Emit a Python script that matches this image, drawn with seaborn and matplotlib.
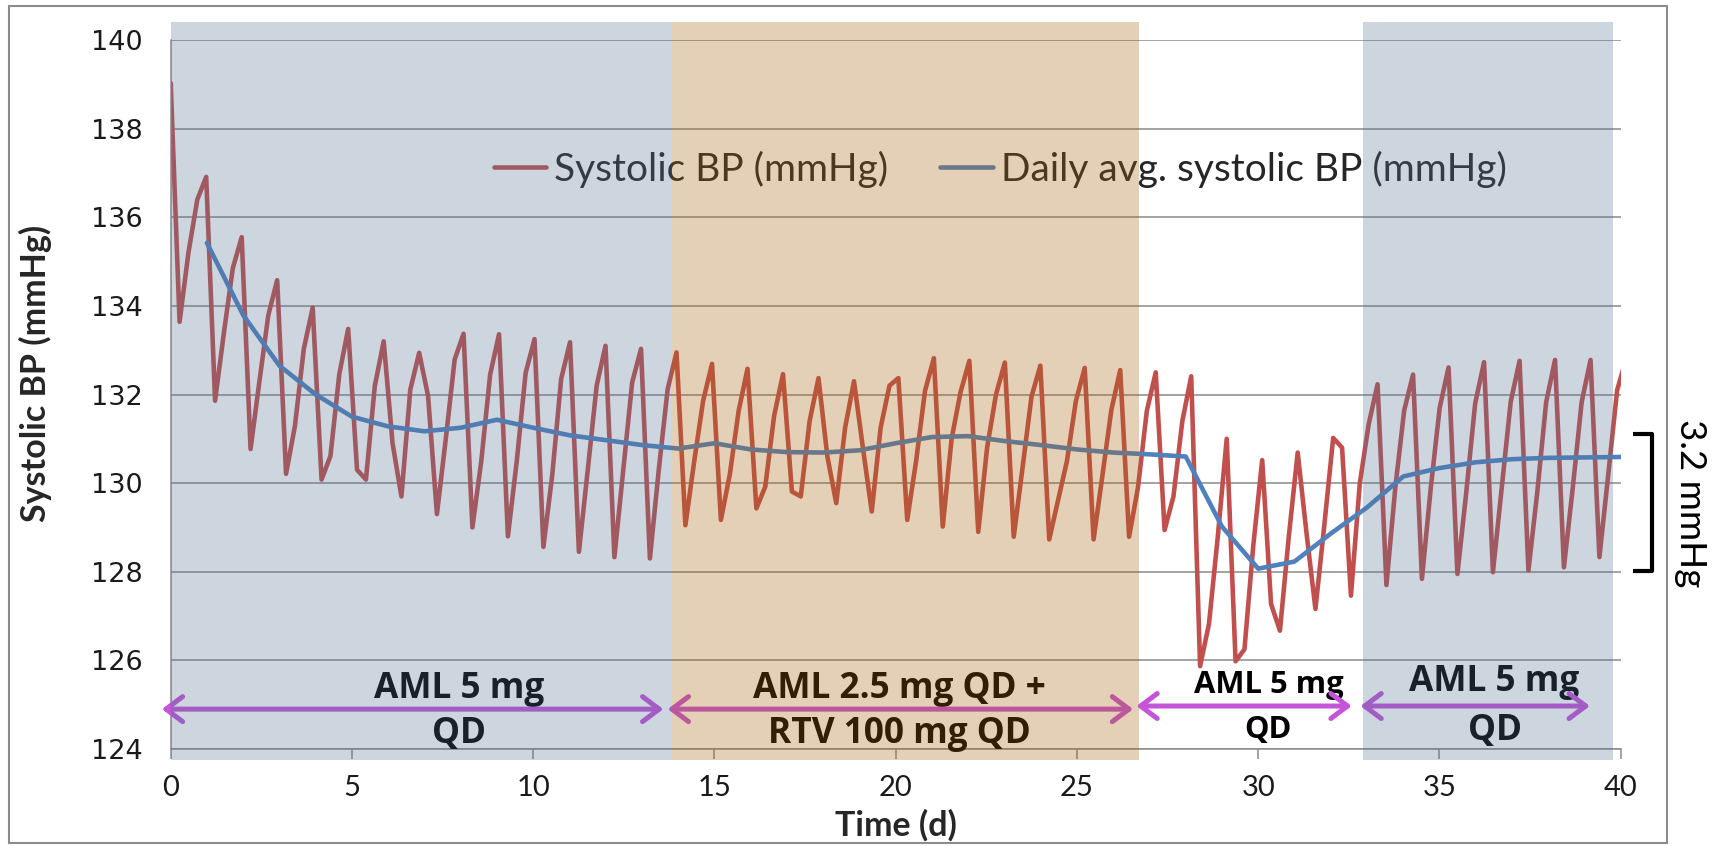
import numpy as np
import pandas as pd
import matplotlib
matplotlib.use("Agg")
import matplotlib.pyplot as plt
import seaborn as sns
from matplotlib.patches import FancyArrowPatch, Rectangle
from matplotlib.lines import Line2D

# ---------------- data ----------------
sample_interval_d = 0.2448          # spacing of the simulated systolic BP samples (days)
systolic_bp = [
    139.03, 133.64, 135.2, 136.4, 136.91, 131.86, 133.4, 134.85, 135.55, 130.77, 132.3,
    133.79, 134.58, 130.21, 131.29, 133.03, 133.96, 130.08, 130.61, 132.46, 133.48,
    130.3, 130.08, 132.19, 133.2, 130.9, 129.7, 132.11, 132.94,
    131.97, 129.3, 131.0, 132.79, 133.37,
    129.0, 130.5, 132.45, 133.36,
    128.8, 130.5, 132.49, 133.25,
    128.56, 130.19, 132.35, 133.18,
    128.45, 130.3, 132.2, 133.1,
    128.33, 130.3, 132.27, 133.03,
    128.3, 130.3, 132.12, 132.95,
    129.05, 130.5, 131.86, 132.69,
    129.17, 130.19, 131.63, 132.58,
    129.43, 129.92, 131.52, 132.46,
    129.81, 129.7, 131.4, 132.37,
    130.6, 129.55, 131.25, 132.3,
    130.8, 129.36, 131.25, 132.2, 132.37,
    129.17, 130.5, 132.08, 132.82,
    129.02, 131.0, 132.05, 132.76,
    128.9, 130.8, 132.0, 132.72,
    128.79, 130.36, 131.95, 132.65,
    128.73, 129.61, 130.5, 131.85, 132.6,
    128.73, 130.18, 131.65, 132.55,
    128.79, 129.9, 131.63, 132.5,
    128.94, 129.7, 131.4, 132.41,
    125.87, 126.82, 128.8, 131.0,
    125.98, 126.25, 128.6, 130.52,
    127.27, 126.67, 128.8, 130.69,
    128.86, 127.16, 129.05, 131.02,
    130.8, 127.46, 130.0, 131.33, 132.23,
    127.7, 129.9, 131.64, 132.45,
    127.84, 129.9, 131.7, 132.61,
    127.95, 129.8, 131.8, 132.73,
    127.99, 129.9, 131.83, 132.76,
    128.03, 129.8, 131.83, 132.78,
    128.1, 129.9, 131.83, 132.78,
    128.33, 130.2, 132.1, 132.8,
]
sample_time = np.arange(len(systolic_bp)) * sample_interval_d

avg_day = list(range(1, 41))
daily_avg_bp = [
    135.42, 133.79, 132.65, 132.0, 131.5, 131.28, 131.17, 131.25, 131.43, 131.25,
    131.08, 130.97, 130.86, 130.78, 130.9, 130.76, 130.7, 130.69, 130.74, 130.9,
    131.04, 131.06, 130.95, 130.86, 130.76, 130.69, 130.65, 130.6, 129.02, 128.07,
    128.23, 128.86, 129.45, 130.15, 130.34, 130.47, 130.54, 130.57, 130.58, 130.59,
]

series_names = ["Systolic BP (mmHg)", "Daily avg. systolic BP (mmHg)"]
x_ticks = [0, 5, 10, 15, 20, 25, 30, 35, 40]
y_ticks = [124, 126, 128, 130, 132, 134, 136, 138, 140]

# treatment periods (start, end, shade)
period_start = [0.0, 13.83, 32.9]
period_end = [13.83, 26.70, 39.79]
period_shade = ["blue", "orange", "blue"]
# treatment labels
label_line1 = ["AML 5 mg", "AML 2.5 mg QD +", "AML 5 mg", "AML 5 mg"]
label_line2 = ["QD", "RTV 100 mg QD", "QD", "QD"]
arrow_start = [-0.245, 13.71, 26.64, 32.82]
arrow_end = [13.59, 26.55, 32.58, 39.15]
bracket_text = "3.2 mmHg"

# ---------------- style ----------------
RED = "#C0504D"
BLUE = "#4F81BD"
PURPLE = "#C454D8"
GRID = "#8A8A8A"
SHADE = {"blue": ("#537294", 0.29), "orange": ("#A86212", 0.30)}

sns.set_style("white")
plt.rcParams["font.family"] = ["DejaVu Sans"]

W, H = 1714, 846
fig = plt.figure(figsize=(W / 100, H / 100), dpi=100)
ax = fig.add_axes([170.7 / W, 1 - 749 / H, 1450 / W, 709 / H])

df_bp = pd.DataFrame({"t": sample_time, "bp": systolic_bp})
df_avg = pd.DataFrame({"t": avg_day, "bp": daily_avg_bp})
sns.lineplot(data=df_bp, x="t", y="bp", ax=ax, color=RED, lw=3.3,
             label=series_names[0], zorder=2, sort=False)
sns.lineplot(data=df_avg, x="t", y="bp", ax=ax, color=BLUE, lw=3.3,
             label=series_names[1], zorder=2.1, sort=False)

ax.set_xlim(0, 40)
ax.set_ylim(124, 140)
ax.set_xticks(x_ticks)
ax.set_yticks(y_ticks)
ax.set_xlabel("")
ax.set_ylabel("")
ax.set_axisbelow(True)
ax.grid(axis="y", color=GRID, lw=1.1)
ax.grid(axis="x", visible=False)
for s in ["top", "right"]:
    ax.spines[s].set_visible(False)
for s in ["left", "bottom"]:
    ax.spines[s].set_color(GRID)
    ax.spines[s].set_linewidth(1.1)

ax.tick_params(axis="y", direction="out", length=7, width=1.1, color=GRID, pad=13,
               labelsize=19.5, labelcolor="#1a1a1a")
ax.tick_params(axis="x", direction="out", length=7, width=1.1, color=GRID, pad=12,
               labelsize=21, labelcolor="#1a1a1a", bottom=True)
for lab in ax.get_xticklabels():
    lab.set_fontfamily("Lato")

ax.text(-0.0936, 0.530, "Systolic BP (mmHg)", transform=ax.transAxes, rotation=90,
        ha="center", va="center", fontsize=24.5, fontweight="bold", family="Lato")
ax.text(0.5, -0.107, "Time (d)", transform=ax.transAxes, ha="center", va="center",
        fontsize=24.5, fontweight="bold", family="Lato")

# legend
handles = [Line2D([], [], color=RED, lw=3.3), Line2D([], [], color=BLUE, lw=3.3)]
leg = ax.legend(handles, series_names, loc="center", bbox_to_anchor=(0.572, 0.818),
                ncol=2, frameon=False, handlelength=1.35, handletextpad=0.2,
                columnspacing=1.35, prop={"family": "Lato", "size": 28})
leg.set_zorder(2.5)

# treatment arrows and labels (drawn under the translucent shading)
label_x = [7.95, 20.1, 30.28, 36.52]
line1_y = [125.15, 125.15, 125.27, 125.31]
line2_y = [124.14, 124.14, 124.25, 124.2]
arrow_y = [124.9, 124.9, 124.97, 124.97]
sizes = [25.4, 25.4, 22.3, 25.4]
for i in range(4):
    ax.text(label_x[i], line1_y[i], label_line1[i], ha="center", va="baseline",
            fontsize=sizes[i], fontweight="bold", family="Open Sans",
            color="black", zorder=2.6)
    ax.text(label_x[i], line2_y[i], label_line2[i], ha="center", va="baseline",
            fontsize=sizes[i], fontweight="bold", family="Open Sans",
            color="black", zorder=2.6)
    arr = FancyArrowPatch((arrow_start[i], arrow_y[i]), (arrow_end[i], arrow_y[i]),
                          arrowstyle="<->,head_length=0.6,head_width=0.45",
                          mutation_scale=20, lw=3.6, color=PURPLE, zorder=2.6,
                          clip_on=False, shrinkA=0, shrinkB=0,
                          capstyle="round", joinstyle="round")
    ax.add_patch(arr)

# translucent period shading on top
for x0, x1, shade in zip(period_start, period_end, period_shade):
    c, a = SHADE[shade]
    ax.axvspan(x0, x1, ymin=-0.016, ymax=1.026, color=c, alpha=a, lw=0,
               zorder=3, clip_on=False)

# bracket and its label on the right
ax.plot([40.35, 40.86, 40.86, 40.35], [131.11, 131.11, 128.02, 128.02], color="black",
        lw=3.0, clip_on=False, solid_joinstyle="round", solid_capstyle="butt", zorder=4)
fig.text(1690 / W, 1 - 503 / H, bracket_text, rotation=-90, ha="center", va="center",
         fontsize=26.5, family="Lato", color="black")

# outer chart border
fig.patches.append(Rectangle((9 / W, 1 - 843 / H), (1667 - 9) / W, (843 - 6) / H,
                             transform=fig.transFigure, fill=False,
                             edgecolor="#8C8C8C", lw=1.5, zorder=0))

fig.savefig("out.png", dpi=100)
